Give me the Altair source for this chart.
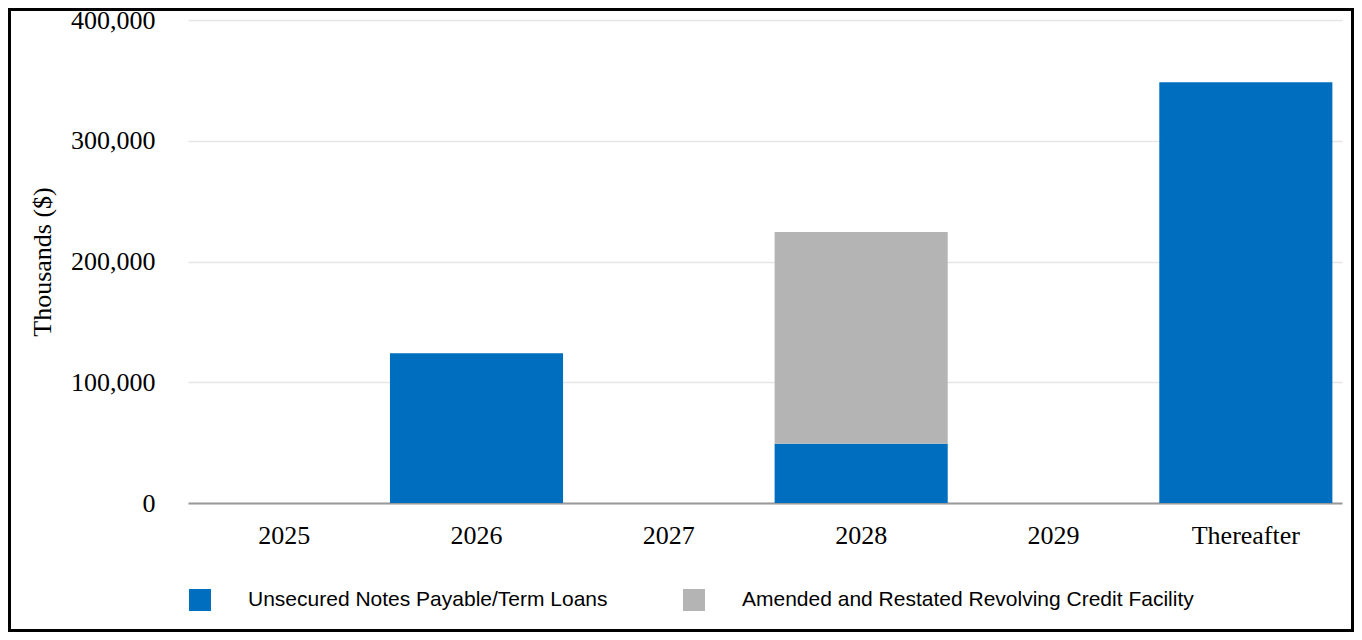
import altair as alt
import pandas as pd

years = ["2025", "2026", "2027", "2028", "2029", "Thereafter"]
unsecured = [0, 124000, 0, 49000, 0, 348500]
revolver = [0, 0, 0, 175500, 0, 0]
series_names = ["Unsecured Notes Payable/Term Loans",
                "Amended and Restated Revolving Credit Facility"]
series_colors = ["#006EBE", "#B4B4B4"]
y_ticks = [0, 100000, 200000, 300000, 400000]

rows = []
for i, yr in enumerate(years):
    rows.append({"year": yr, "series": series_names[0], "value": unsecured[i], "ord": 0})
    rows.append({"year": yr, "series": series_names[1], "value": revolver[i], "ord": 1})
df = pd.DataFrame(rows)

bars = alt.Chart(df).mark_bar(strokeWidth=0).encode(
    x=alt.X("year:N", sort=years,
            scale=alt.Scale(paddingInner=0.1, paddingOuter=0.05),
            axis=alt.Axis(title=None, labelAngle=0, labelFont="Liberation Serif",
                          labelFontSize=26, labelColor="#000000", labelPadding=19,
                          ticks=False, domainColor="#999999", domainWidth=2,
                          grid=False)),
    y=alt.Y("value:Q", stack="zero",
            scale=alt.Scale(domain=[0, 400000], nice=False),
            axis=alt.Axis(title="Thousands ($)", values=y_ticks, format=",.0f",
                          labelFont="Liberation Serif", labelFontSize=26,
                          labelColor="#000000", labelPadding=33,
                          titleFont="Liberation Serif", titleFontSize=26,
                          titleFontWeight="normal", titleColor="#000000",
                          titlePadding=15, ticks=False, domain=False,
                          grid=True, gridColor="#e6e6e6", gridWidth=1.5)),
    color=alt.Color("series:N",
                    scale=alt.Scale(domain=series_names, range=series_colors),
                    legend=alt.Legend(title=None, orient="none", legendX=1, legendY=569,
                                      direction="horizontal", symbolType="square",
                                      symbolSize=484, symbolStrokeWidth=0,
                                      labelFont="Liberation Sans", labelFontSize=21,
                                      labelColor="#000000", labelOffset=37,
                                      columnPadding=75, labelLimit=600)),
    order=alt.Order("ord:Q"),
)

border = alt.Chart(pd.DataFrame({"k": [0]})).mark_rect(
    fill="transparent", stroke="#000000", strokeWidth=3
).encode(
    x=alt.value(-178.5), x2=alt.value(1164.5),
    y=alt.value(-10.5), y2=alt.value(610.5),
)

chart = alt.layer(bars, border).properties(
    width=1154, height=483,
    autosize=alt.AutoSizeParams(type="none"),
    padding={"left": 180, "top": 12, "right": 12, "bottom": 129},
    background="white",
).configure_view(strokeWidth=0)

chart.save("out.html", embed_options={"renderer": "svg", "actions": False})
